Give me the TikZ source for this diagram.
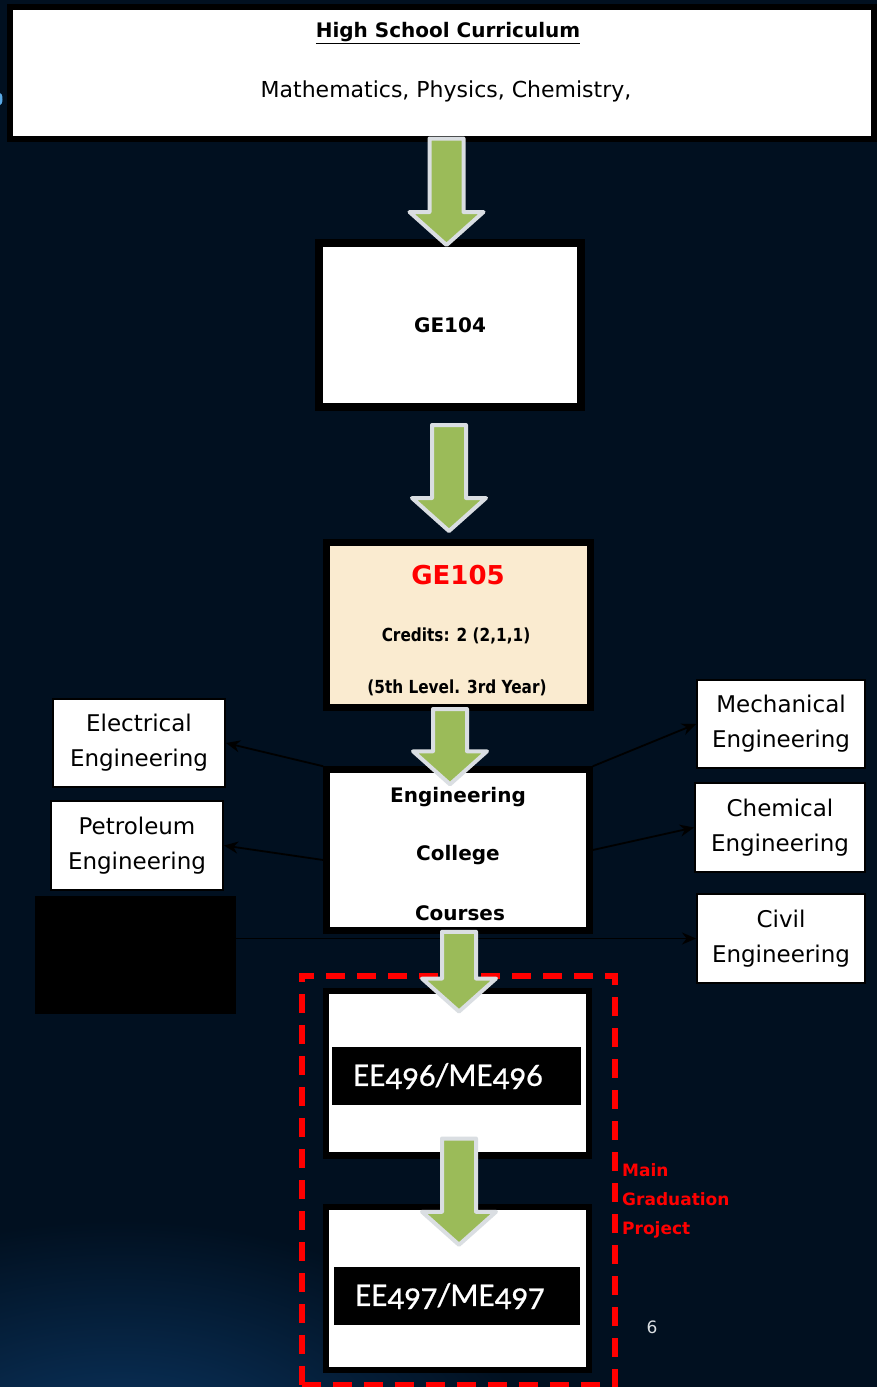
\documentclass[tikz,border=0pt]{standalone}
\usepackage{fontspec}
\setmainfont{DejaVu Sans}
\newfontfamily\condfont[FakeStretch=0.85]{DejaVu Sans}
\newfontfamily\calfont[Numbers=OldStyle,FakeBold=0.6]{Carlito}
\usetikzlibrary{arrows.meta,shapes,calc}
\definecolor{fond}{RGB}{1,16,32}
\definecolor{swoosh}{RGB}{12,58,105}
\definecolor{vert}{RGB}{155,187,89}
\definecolor{creme}{RGB}{250,235,208}
\definecolor{rouge}{RGB}{255,0,0}
\definecolor{gris}{RGB}{218,222,226}
\definecolor{bleu}{RGB}{90,170,230}
\tikzset{
  boxnode/.style = {align=center, inner sep=0pt, text centered},
  box_k/.style = {boxnode, rectangle, draw=black, fill=white,
    line width=8pt},% cadre noir epais
  box_s/.style = {boxnode, rectangle, draw=black, fill=white,
    line width=2pt, font=\fontsize{23}{35}\selectfont},% boite laterale
  box_b/.style = {boxnode, rectangle, fill=black, text=white,
    font=\calfont\fontsize{33}{36}\selectfont},% bandeau noir
  conn/.style = {->, line width=1.8pt, black},% fleche fine
  big_arr/.style = {draw=gris, fill=vert, line width=4pt, line join=round,
    to path={let \p1=(\tikztostart), \p2=(\tikztotarget) in
      (\x2-17pt,\y1) -- (\x2-17pt,\y2+33pt) -- (\x2-37pt,\y2+33pt) -- (\x2,\y2)
      -- (\x2+37pt,\y2+33pt) -- (\x2+17pt,\y2+33pt) -- (\x2+17pt,\y1) -- cycle}}% grosse fleche
}
\begin{document}
\begin{tikzpicture}[x=1pt,y=-1pt,>={Stealth[length=14pt,width=12pt]}]
\useasboundingbox (0,0) rectangle (877,1387);
% fond
\fill[fond] (0,0) rectangle (877,1387);
\begin{scope}
\clip (0,0) rectangle (877,1387);
\shade[inner color=swoosh, outer color=fond] (120,1480) ellipse (420 and 260);
\end{scope}
\fill[bleu] (0,99) ellipse (2.5 and 6);

% boites
\node (hs) [box_k, line width=6pt, minimum width=864pt, minimum height=132pt] at (441.5,72.5) {};
\node (hs_t) [font=\bfseries\fontsize{20}{24}\selectfont] at (448,33) {\underline{High School Curriculum}};
\node (hs_m) [font=\fontsize{22}{24}\selectfont] at (446,91) {Mathematics, Physics, Chemistry,};

\node (ge104) [box_k, minimum width=262pt, minimum height=164pt,
  font=\bfseries\fontsize{20}{24}\selectfont] at (450,325) {GE104};

\node (ge105) [box_k, fill=creme, line width=7pt, minimum width=264pt, minimum height=165pt] at (458.5,625) {};
\node (ge105_t) [text=rouge, font=\bfseries\fontsize{26}{30}\selectfont] at (458,575) {GE105};
\node (ge105_c) [font=\condfont\bfseries\fontsize{18}{22}\selectfont] at (456,636) {Credits: 2 (2,1,1)};
\node (ge105_l) [font=\condfont\bfseries\fontsize{18}{22}\selectfont] at (457,688) {(5th Level. 3rd Year)};

\node (eng) [box_k, line width=7pt, minimum width=262.5pt, minimum height=160.5pt] at (458,850) {};
\node (eng_a) [font=\bfseries\fontsize{20}{24}\selectfont] at (458,797) {Engineering};
\node (eng_b) [font=\bfseries\fontsize{20}{24}\selectfont] at (458,855) {College};
\node (eng_c) [font=\bfseries\fontsize{20}{24}\selectfont] at (460,913) {Courses};

\node (elec)  [box_s, minimum width=172pt, minimum height=88pt] at (139,743) {Electrical\\Engineering};
\node (petro) [box_s, minimum width=172pt, minimum height=89pt] at (137,845.5) {Petroleum\\Engineering};
\node (blk)   [rectangle, fill=black, minimum width=201pt, minimum height=118pt] at (135.5,955) {};
\node (mech)  [box_s, minimum width=168pt, minimum height=88pt] at (781,724) {Mechanical\\Engineering};
\node (chem)  [box_s, minimum width=170pt, minimum height=89pt] at (780,827.5) {Chemical\\Engineering};
\node (civ)   [box_s, minimum width=168pt, minimum height=89pt] at (781,938.5) {Civil\\Engineering};

% liaisons
\draw[conn] (eng.north west) -- (elec.east);
\draw[conn] ([yshift=-10pt]eng.west) -- (petro.east);
\draw[conn] (eng.north east) -- (mech.west);
\draw[conn] (eng.east) -- (chem.west);
\draw[conn] (blk.east |- civ.west) -- (civ.west);

% projet
\node (grp) [rectangle, draw=rouge, line width=6pt, dash pattern=on 19pt off 12pt,
  minimum width=313pt, minimum height=409.5pt] at (458,1180.25) {};
\node (ee496) [box_k, line width=6.5pt, minimum width=263pt, minimum height=164.5pt] at (457.5,1073) {};
\node (ee496_b) [box_b, minimum width=249pt, minimum height=58pt] at (456.5,1076) {EE496/ME496\hspace*{17pt}};
\node (ee497) [box_k, line width=6.5pt, minimum width=263pt, minimum height=163pt] at (457.5,1288.5) {};
\node (ee497_b) [box_b, minimum width=246pt, minimum height=58pt] at (457,1296) {EE497/ME497\hspace*{14pt}};
\node (mgp) [anchor=north west, align=left, inner sep=0pt, text=rouge,
  font=\bfseries\fontsize{17}{29}\selectfont] at (622,1163) {Main\\Graduation\\Project};
\node (pg) [text=gris, font=\fontsize{17}{20}\selectfont] at (652,1327) {6};

% grosses fleches
\draw[big_arr] ([yshift=3pt]hs.south) to ([xshift=-3.5pt,yshift=-6pt]ge104.north);
\draw[big_arr] ([yshift=-14pt]ge104.south) to ([xshift=-9.5pt,yshift=8pt]ge105.north);
\draw[big_arr] ([yshift=2pt]ge105.south) to ([xshift=-8pt,yshift=-18pt]eng.north);
\draw[big_arr] ([yshift=2pt]eng.south) to ([xshift=1.5pt,yshift=-24pt]ee496.north);
\draw[big_arr] ([yshift=20pt]ee496.south) to ([xshift=1.5pt,yshift=-41pt]ee497.north);
\end{tikzpicture}
\end{document}
